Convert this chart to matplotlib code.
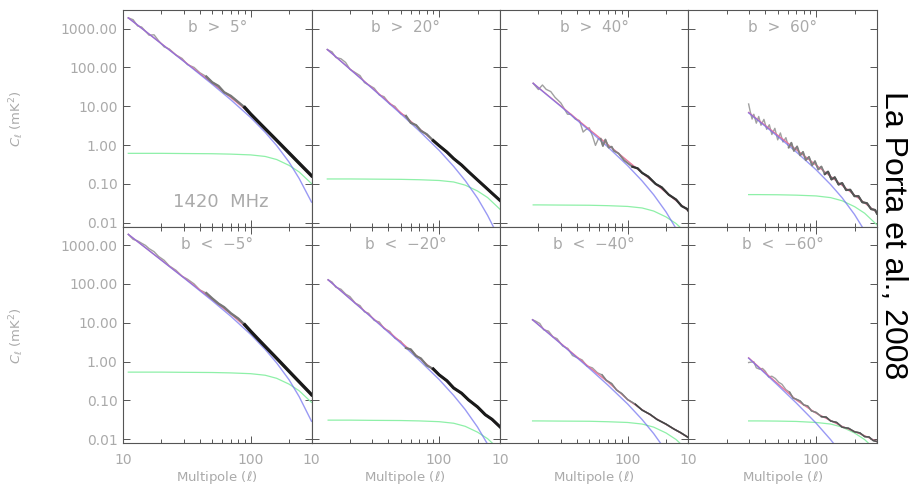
import numpy as np
import matplotlib.pyplot as plt
from matplotlib.ticker import FixedLocator, FixedFormatter, NullFormatter, NullLocator

plt.rcParams["mathtext.fontset"] = "dejavusans"

# ---- data (C_ell in mK^2) ----
# b > 5
ell_d1 = [11, 12, 13, 14, 15, 16, 17.5, 19, 21, 23, 26, 29, 32, 36, 40, 45, 50, 56, 62, 70, 80, 90,
          100, 115, 130, 150, 170, 200, 230, 260, 290, 300]
cl_d1 = [1880, 1690, 1170, 1090, 851, 673, 690, 486, 337, 299, 209, 170, 118, 100, 72.9, 57.9, 41.3,
         33.2, 22.9, 18.4, 12.8, 9.25, 6.3, 3.95, 2.63, 1.64, 1.08, 0.627, 0.393, 0.261, 0.182, 0.162]
ell_m1 = [11, 15, 20, 30, 50, 70, 100, 130, 160, 200, 240, 300]
blue1 = [1880, 851, 404, 142, 36.8, 14.6, 5.12, 2.13, 0.97, 0.364, 0.138, 0.034]
pink1 = [1880, 851, 408, 145, 39.4, 16.7, 6.5, 2.7, 1.35, 0.63, 0.35, 0.162]
green1 = [0.612, 0.612, 0.612, 0.605, 0.598, 0.584, 0.558, 0.509, 0.424, 0.300, 0.203, 0.102]

# b > 20
ell_d2 = [13.3, 14.5, 15.5, 17, 18.5, 20, 22, 24, 26, 28, 31, 34, 37, 41, 45, 50, 55, 60, 66, 72, 80,
          90, 100, 115, 130, 150, 170, 200, 230, 260, 300]
cl_d2 = [288, 250, 180, 167, 134, 89.5, 73.5, 61.4, 40.6, 35.4, 29.1, 19.5, 17.6, 11.5, 9.91, 6.40,
         5.62, 3.73, 3.26, 2.33, 1.90, 1.30, 0.964, 0.662, 0.448, 0.306, 0.206, 0.126, 0.083, 0.0574,
         0.0375]
ell_m2 = [13.3, 15, 20, 30, 50, 70, 100, 130, 160, 200, 240, 300]
blue2 = [288, 206, 90, 28.4, 6.40, 2.30, 0.731, 0.282, 0.122, 0.0429, 0.0154, 0.0036]
pink2 = [288, 206, 91, 29.1, 6.85, 2.64, 0.964, 0.448, 0.243, 0.126, 0.0729, 0.0375]
green2 = [0.134, 0.134, 0.134, 0.1327, 0.131, 0.128, 0.1224, 0.112, 0.0929, 0.0657, 0.0444, 0.0222]

# b > 40
ell_d3 = [18.2, 20, 21.5, 23, 25, 27, 30, 33.8, 36, 39, 42, 44.8, 47, 50, 53, 56, 59, 61.5, 64, 67,
          71, 75, 78, 85, 94, 109, 120, 130, 145, 166, 185, 210, 240, 265, 292, 300]
cl_d3 = [38.9, 26.9, 35.2, 27.2, 23.8, 16.9, 12.1, 6.22, 6.18, 4.63, 4.27, 2.16, 2.50, 2.79, 1.73,
         0.98, 1.45, 1.45, 0.946, 1.39, 0.859, 0.910, 0.714, 0.608, 0.403, 0.277, 0.251, 0.192, 0.154,
         0.0995, 0.0815, 0.0528, 0.0394, 0.0269, 0.0227, 0.0201]
ell_m3 = [18.2, 20, 30, 50, 70, 100, 130, 160, 200, 240, 300]
blue3 = [38.9, 29.8, 9.86, 2.37, 0.893, 0.296, 0.119, 0.0526, 0.019, 0.00702, 0.00168]
pink3 = [38.9, 30.1, 10.1, 2.54, 1.03, 0.391, 0.192, 0.110, 0.0601, 0.0368, 0.0201]
green3 = [0.0288, 0.0288, 0.0285, 0.0282, 0.0275, 0.0263, 0.024, 0.020, 0.0141, 0.0095, 0.0048]

# b > 60
ell_d4 = [29.6, 30.5, 31.5, 32.5, 34, 35.5, 37, 39, 41, 43, 45, 47.5, 50, 52.5, 55, 58, 61, 64, 67,
          71, 75, 79, 83, 88, 93, 98, 104, 110, 117, 124, 132, 140, 150, 160, 172, 185, 200, 215,
          230, 250, 270, 290, 300]
cl_d4 = [11.4, 7.16, 4.67, 6.21, 3.66, 5.44, 3.24, 4.58, 2.54, 3.33, 1.87, 2.70, 1.36, 2.05, 1.20,
         1.55, 0.859, 1.15, 0.706, 0.923, 0.542, 0.668, 0.408, 0.498, 0.299, 0.386, 0.234, 0.281,
         0.178, 0.207, 0.130, 0.148, 0.0962, 0.105, 0.0692, 0.0708, 0.0482, 0.0483, 0.0337, 0.0320,
         0.0224, 0.0214, 0.0171]
ell_m4 = [29.6, 35, 40, 50, 70, 100, 130, 160, 200, 240, 300]
blue4 = [6.73, 4.33, 3.04, 1.67, 0.662, 0.231, 0.0959, 0.0439, 0.0163, 0.0062, 0.0015]
pink4 = [6.89, 4.48, 3.18, 1.79, 0.760, 0.305, 0.156, 0.0916, 0.0516, 0.0324, 0.0183]
green4 = [0.053, 0.053, 0.0528, 0.0525, 0.0513, 0.049, 0.0443, 0.0368, 0.026, 0.0176, 0.0088]

# b < -5
ell_d5 = ell_d1
cl_d5 = [1880, 1400, 1280, 1110, 977, 809, 675, 509, 405, 292, 224, 158, 132, 100, 69.7, 57.9, 42.3,
         31.0, 25.1, 17.5, 12.8, 8.83, 6.03, 3.72, 2.45, 1.51, 0.984, 0.562, 0.348, 0.229, 0.158, 0.140]
ell_m5 = ell_m1
blue5 = [1880, 851, 404, 142, 36.8, 14.6, 5.0, 2.05, 0.92, 0.34, 0.125, 0.029]
pink5 = [1880, 851, 408, 145, 39.4, 16.7, 6.1, 2.45, 1.22, 0.56, 0.31, 0.14]
green5 = [0.534, 0.534, 0.534, 0.528, 0.522, 0.510, 0.487, 0.444, 0.370, 0.262, 0.177, 0.089]

# b < -20
ell_d6 = [13.5, 14.5, 15.5, 17, 18.5, 20, 22, 24, 26, 28, 31, 34, 37, 41, 45, 50, 55, 60, 66, 72, 80,
          90, 100, 115, 130, 150, 170, 200, 230, 260, 300]
cl_d6 = [127, 111, 82.0, 72.8, 54.7, 47.0, 32.1, 27.5, 19.1, 17.5, 11.5, 10.4, 7.11, 5.97, 4.01,
         3.34, 2.23, 2.05, 1.39, 1.20, 0.796, 0.643, 0.455, 0.321, 0.208, 0.153, 0.103, 0.0679,
         0.0428, 0.0325, 0.0208]
ell_m6 = [13.5, 15, 20, 30, 50, 70, 100, 130, 160, 200, 240, 300]
blue6 = [127, 94.2, 41.4, 13.1, 2.98, 1.08, 0.345, 0.134, 0.0582, 0.0205, 0.0074, 0.0017]
pink6 = [127, 94.2, 41.9, 13.4, 3.19, 1.24, 0.455, 0.218, 0.122, 0.0649, 0.0389, 0.0208]
green6 = [0.031, 0.031, 0.031, 0.0306, 0.0303, 0.0296, 0.0283, 0.0258, 0.0215, 0.0152, 0.0103, 0.0052]

# b < -40
ell_d7 = [18, 19, 20.5, 22, 24, 26, 28, 31, 34, 37, 40, 44, 48, 53, 58, 63, 68, 75, 82, 90, 100, 115,
          130, 150, 170, 200, 230, 260, 300]
cl_d7 = [11.9, 11.0, 9.55, 6.58, 6.07, 4.34, 3.88, 2.50, 2.18, 1.43, 1.27, 1.10, 0.767, 0.687, 0.514,
         0.455, 0.331, 0.270, 0.184, 0.150, 0.105, 0.0796, 0.0562, 0.0436, 0.0323, 0.0245, 0.0184,
         0.0148, 0.011]
ell_m7 = [18, 20, 30, 50, 70, 100, 130, 160, 200, 240, 300]
blue7 = [11.9, 8.81, 2.86, 0.670, 0.248, 0.0809, 0.032, 0.014, 0.0050, 0.00183, 0.00043]
pink7 = [11.9, 8.91, 2.92, 0.718, 0.30, 0.105, 0.0575, 0.0372, 0.024, 0.017, 0.011]
green7 = [0.0296, 0.0296, 0.0293, 0.029, 0.0282, 0.027, 0.0246, 0.0205, 0.0145, 0.0098, 0.0049]

# b < -60
ell_d8 = [29.6, 31, 32.5, 34, 36, 38, 40, 42.5, 45, 48, 51, 54, 58, 62, 66, 70, 75, 80, 86, 92, 100,
          110, 120, 130, 145, 160, 180, 200, 220, 240, 260, 280, 300]
cl_d8 = [0.944, 0.968, 0.986, 0.689, 0.637, 0.665, 0.561, 0.400, 0.419, 0.365, 0.292, 0.260, 0.189,
         0.163, 0.115, 0.107, 0.0964, 0.0764, 0.0716, 0.0536, 0.049, 0.0382, 0.037, 0.0295, 0.027,
         0.0204, 0.0191, 0.0155, 0.0146, 0.0117, 0.0114, 0.00925, 0.0087]
ell_m8 = [29.6, 35, 40, 50, 70, 100, 130, 160, 200, 240, 300]
blue8 = [1.22, 0.733, 0.489, 0.247, 0.0855, 0.0259, 0.00973, 0.0041, 0.0014, 0.00049, 0.00011]
pink8 = [1.245, 0.759, 0.512, 0.27, 0.102, 0.0468, 0.0302, 0.0214, 0.0158, 0.0123, 0.0087]
green8 = [0.0296, 0.0296, 0.0295, 0.0293, 0.0287, 0.027, 0.0246, 0.0205, 0.0145, 0.0098, 0.0049]

panel_labels = ["b  >  5°", "b  >  20°", "b  >  40°", "b  >  60°",
                "b  <  \u22125°", "b  <  \u221220°", "b  <  \u221240°", "b  <  \u221260°"]
y_ticks = [0.01, 0.1, 1, 10, 100, 1000]
y_tick_labels = ["0.01", "0.10", "1.00", "10.00", "100.00", "1000.00"]
x_ticks = [10, 100]
x_tick_labels = ["10", "100"]
x_minor = [20, 30, 40, 50, 60, 70, 80, 90, 200, 300]

panels = [
    (ell_d1, cl_d1, ell_m1, blue1, pink1, green1),
    (ell_d2, cl_d2, ell_m2, blue2, pink2, green2),
    (ell_d3, cl_d3, ell_m3, blue3, pink3, green3),
    (ell_d4, cl_d4, ell_m4, blue4, pink4, green4),
    (ell_d5, cl_d5, ell_m5, blue5, pink5, green5),
    (ell_d6, cl_d6, ell_m6, blue6, pink6, green6),
    (ell_d7, cl_d7, ell_m7, blue7, pink7, green7),
    (ell_d8, cl_d8, ell_m8, blue8, pink8, green8),
]
# data trace: where it thickens (mid) and where it turns dark, with widths and colours
mid_style = [(45, 1.7, "#777777"), (55, 1.6, "#777777"), (60, 1.3, "#808080"), (60, 1.3, "#808080"),
             (45, 1.7, "#777777"), (55, 1.6, "#777777"), (60, 1.1, "#808080"), (60, 1.1, "#808080")]
dark_style = [(85, 2.4, "#1a1a1a"), (90, 2.2, "#1a1a1a"), (105, 1.6, "#333333"), (115, 1.5, "#555555"),
              (85, 2.4, "#1a1a1a"), (90, 2.2, "#1a1a1a"), (105, 1.1, "#444444"), (105, 1.0, "#555555")]

axis_col = "#555555"
text_col = "#aaaaaa"

fig, axes = plt.subplots(2, 4, figsize=(9.14, 4.86), dpi=100)
fig.subplots_adjust(left=0.1346, right=0.9595, top=0.9794, bottom=0.0885, wspace=0, hspace=0)

for i, ax in enumerate(axes.flat):
    row, col = divmod(i, 4)
    ell_d, cl_d, ell_m, blue, pink, green = panels[i]
    ell_d = np.asarray(ell_d)
    cl_d = np.asarray(cl_d)

    ax.plot(ell_d, cl_d, color="#a0a0a0", lw=1.0, zorder=1)
    ax.plot(ell_m, green, color="#8ef0a8", lw=0.9, zorder=2)
    ax.plot(ell_m, pink, color="#e8789c", lw=1.0, zorder=3)
    ax.plot(ell_m, blue, color="#6e6ef0", lw=1.0, alpha=0.7, zorder=4)
    for (start, lw, dcol), z in ((mid_style[i], 4.5), (dark_style[i], 5)):
        m = ell_d >= start
        ax.plot(ell_d[m], cl_d[m], color=dcol, lw=lw, zorder=z)

    ax.set_xscale("log")
    ax.set_yscale("log")
    ax.set_xlim(10, 300)
    ax.set_ylim(0.008, 3000)

    ax.xaxis.set_major_locator(FixedLocator(x_ticks))
    ax.xaxis.set_minor_locator(FixedLocator(x_minor))
    ax.xaxis.set_minor_formatter(NullFormatter())
    ax.yaxis.set_major_locator(FixedLocator(y_ticks))
    ax.yaxis.set_minor_locator(NullLocator())
    ax.yaxis.set_minor_formatter(NullFormatter())
    if col == 0:
        ax.yaxis.set_major_formatter(FixedFormatter(y_tick_labels))
    else:
        ax.yaxis.set_major_formatter(NullFormatter())
    if row == 1:
        ax.xaxis.set_major_formatter(FixedFormatter(x_tick_labels))
    else:
        ax.xaxis.set_major_formatter(NullFormatter())

    ax.tick_params(which="both", direction="in", top=True, right=True, color=axis_col,
                   width=0.7, labelcolor=text_col, labelsize=10)
    ax.tick_params(which="major", length=5)
    ax.tick_params(which="minor", length=3)
    ax.tick_params(axis="y", pad=4)
    ax.tick_params(axis="x", pad=7)
    for sp in ax.spines.values():
        sp.set_color(axis_col)
        sp.set_linewidth(0.8)

    ax.text(0.5, 0.917, panel_labels[i], transform=ax.transAxes, ha="center", va="center",
            color=text_col, fontsize=11)

axes[0, 0].text(0.52, 0.115, "1420  MHz", transform=axes[0, 0].transAxes, ha="center",
                va="center", color=text_col, fontsize=13)

for yc in (0.755, 0.310):
    fig.text(0.0186, yc, r"$C_\ell$ (mK$^2$)", rotation=90, ha="center", va="center",
             color=text_col, fontsize=9.5)
for xc in (0.2369, 0.4426, 0.6493, 0.8561):
    fig.text(xc, 0.0165, r"Multipole ($\ell$)", ha="center", va="center",
             color=text_col, fontsize=9.5)

fig.text(893 / 914, 1 - 235 / 486, "La Porta et al., 2008", rotation=-90, ha="center",
         va="center", fontsize=23, family="Liberation Sans", color="black")

fig.savefig("out.png", dpi=100)
